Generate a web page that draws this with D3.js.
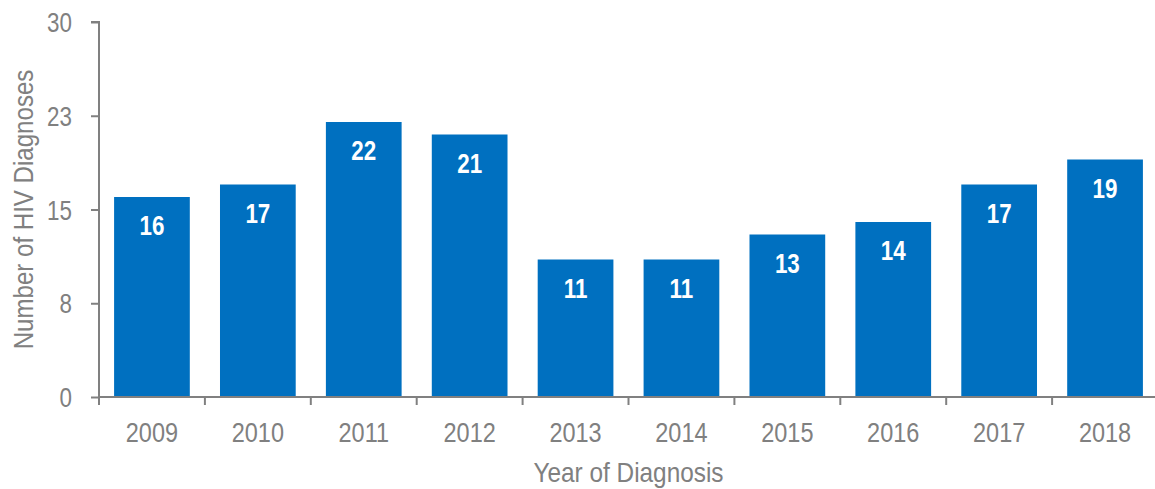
<!DOCTYPE html>
<html>
<head>
<meta charset="utf-8">
<script src="https://cdn.jsdelivr.net/npm/d3@7"></script>
<style>
  html, body { margin: 0; padding: 0; background: #fff; }
  svg { display: block; }
  text { font-family: "Liberation Sans Narrow", "Arial Narrow", "Liberation Sans", Arial, sans-serif; }
</style>
</head>
<body>
<svg id="chart" width="1155" height="489"></svg>
<script>
const years = ["2009","2010","2011","2012","2013","2014","2015","2016","2017","2018"];
const diagnoses = [16, 17, 22, 21, 11, 11, 13, 14, 17, 19];
const yTicks = [0, 7.5, 15, 22.5, 30];
const yTickLabels = ["0", "8", "15", "23", "30"];
const xTitle = "Year of Diagnosis";
const yTitle = "Number of HIV Diagnoses";

const svg = d3.select("#chart");
const plotLeft = 99, plotRight = 1158, plotTop = 22, plotBottom = 397;
const grey = "#808080";
const blue = "#0070C0";
const fs = 28;

// condensed text helper (no narrow font installed)
function ctext(parent, x, y, str, opts) {
  const o = Object.assign({anchor: "middle", sx: 0.82, fill: grey, weight: "normal", rotate: 0}, opts || {});
  return parent.append("text")
    .attr("transform", `translate(${x},${y})` + (o.rotate ? ` rotate(${o.rotate})` : "") + ` scale(${o.sx},1)`)
    .attr("text-anchor", o.anchor)
    .attr("fill", o.fill)
    .attr("font-weight", o.weight)
    .attr("font-size", fs)
    .text(str);
}

const x = d3.scaleBand().domain(years).range([plotLeft, plotRight]).paddingInner(0.285).paddingOuter(0.1425);
const y = d3.scaleLinear().domain([0, 30]).range([plotBottom, plotTop]);

// bars
svg.append("g").selectAll("rect").data(years).join("rect")
  .attr("x", d => x(d))
  .attr("width", x.bandwidth())
  .attr("y", (d, i) => y(diagnoses[i]))
  .attr("height", (d, i) => y(0) - y(diagnoses[i]))
  .attr("fill", blue);

// bar labels
const gl = svg.append("g");
years.forEach((d, i) => {
  ctext(gl, x(d) + x.bandwidth() / 2, y(diagnoses[i]) + 38, String(diagnoses[i]),
        {fill: "#fff", weight: "bold", sx: 0.8});
});

// y axis
const yAxis = d3.axisLeft(y).tickValues(yTicks).tickSize(8).tickFormat(() => "");
const gy = svg.append("g").attr("transform", `translate(${plotLeft},0)`).call(yAxis);
gy.select(".domain").attr("stroke", grey).attr("stroke-width", 2).attr("d", `M-8,${plotTop}H0V${plotBottom}`);
gy.selectAll(".tick line").attr("stroke", grey).attr("stroke-width", 2);
yTicks.forEach((t, i) => {
  ctext(svg, plotLeft - 27, y(t) + 10, yTickLabels[i], {anchor: "end", sx: 0.8});
});

// x axis
const gx = svg.append("g").attr("transform", `translate(0,${plotBottom})`);
gx.append("line").attr("x1", plotLeft).attr("x2", 1155).attr("y1", 0).attr("y2", 0)
  .attr("stroke", grey).attr("stroke-width", 2);
const boundaries = years.map(d => x(d) - x.step() * x.paddingOuter());
gx.selectAll("line.tk").data(boundaries).join("line").attr("class", "tk")
  .attr("x1", d => d).attr("x2", d => d).attr("y1", 0).attr("y2", 8)
  .attr("stroke", grey).attr("stroke-width", 2);
years.forEach(d => {
  ctext(gx, x(d) + x.bandwidth() / 2, 45, d, {sx: 0.84});
});

// titles
ctext(svg, (plotLeft + plotRight) / 2, 482, xTitle, {sx: 0.87});
ctext(svg, 33, (plotTop + plotBottom) / 2, yTitle, {sx: 0.86, rotate: -90});
</script>
</body>
</html>
